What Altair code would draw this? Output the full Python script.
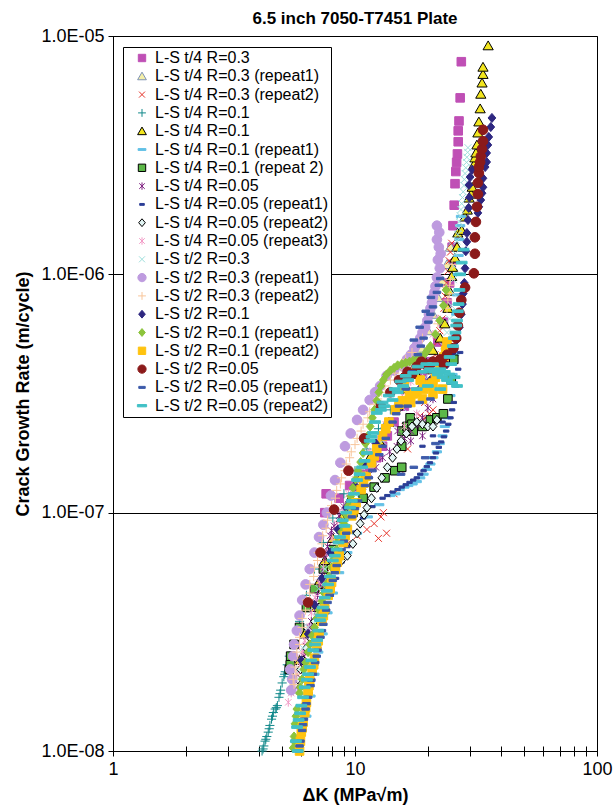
import altair as alt
import pandas as pd

# ---------------- series definitions ----------------
labels = [
    "L-S t/4 R=0.3",
    "L-S t/4 R=0.3 (repeat1)",
    "L-S t/4 R=0.3 (repeat2)",
    "L-S t/4 R=0.1",
    "L-S t/4 R=0.1 ",
    "L-S t/4 R=0.1 (repeat1)",
    "L-S t/4 R=0.1 (repeat 2)",
    "L-S t/4 R=0.05",
    "L-S t/4 R=0.05 (repeat1)",
    "L-S t/4 R=0.05 (repeat2)",
    "L-S t/4 R=0.05 (repeat3)",
    "L-S t/2 R=0.3",
    "L-S t/2 R=0.3 (repeat1)",
    "L-S t/2 R=0.3 (repeat2)",
    "L-S t/2 R=0.1",
    "L-S t/2 R=0.1 (repeat1)",
    "L-S t/2 R=0.1 (repeat2)",
    "L-S t/2 R=0.05",
    "L-S t/2 R=0.05 (repeat1)",
    "L-S t/2 R=0.05 (repeat2)",
]

fills = ["#BF4FB5", "#F4EFA8", "#E53228", "#12898B", "#F2E51E", "#63C1E6", "#5CB848",
         "#7E1F80", "#2C3E96", "#E2F5F4", "#F39AC6", "#9EDFDC", "#BE9BDF", "#F8C59A",
         "#2E2780", "#8CC43C", "#FFC30F", "#8B1A1A", "#3D5BAA", "#41C0C6"]
strokes = ["#BF4FB5", "#7F93B5", "#E53228", "#12898B", "#000000", "#63C1E6", "#000000",
           "#7E1F80", "#2C3E96", "#000000", "#F39AC6", "#9EDFDC", "#BE9BDF", "#F8C59A",
           "#2E2780", "#8CC43C", "#FFC30F", "#8B1A1A", "#3D5BAA", "#41C0C6"]
stroke_widths = [1, 1, 1.4, 2.0, 1, 1, 1, 1.7, 1, 1, 1.7,
                 1.4, 1, 2.0, 1, 1, 1, 1, 1, 1]

SQUARE = "M-0.8,-0.8L0.8,-0.8L0.8,0.8L-0.8,0.8Z"
TRI = "M0,-0.9L0.95,0.75L-0.95,0.75Z"
XMARK = "M-0.65,-0.65L0.65,0.65M-0.65,0.65L0.65,-0.65"
PLUS = "M-0.85,0L0.85,0M0,-0.85L0,0.85"
ASTER = "M-0.6,-0.6L0.6,0.6M-0.6,0.6L0.6,-0.6M0,-0.8L0,0.8"
DIAM = "M0,-0.85L0.72,0L0,0.85L-0.72,0Z"
CIRC = "M0.9,0A0.9,0.9,0,1,1,-0.9,0A0.9,0.9,0,1,1,0.9,0Z"
DASH_SKY = "M-0.85,-0.2L0.85,-0.2L0.85,0.2L-0.85,0.2Z"
DASH_NAVY = "M-0.5,-0.2L0.5,-0.2L0.5,0.2L-0.5,0.2Z"
DASH_BLUE = "M-0.7,-0.22L0.7,-0.22L0.7,0.22L-0.7,0.22Z"
DASH_TURQ = "M-1,-0.25L1,-0.25L1,0.25L-1,0.25Z"
shapes = [SQUARE, TRI, XMARK, PLUS, TRI, DASH_SKY, SQUARE, ASTER, DASH_NAVY, DIAM, ASTER,
          XMARK, CIRC, PLUS, DIAM, DIAM, SQUARE, CIRC, DASH_BLUE, DASH_TURQ]

# ---------------- data (dK in MPa*sqrt(m), rate in m/cycle) ----------------
s01 = [(7.5, 1.0e-7), (7.6, 1.2e-7), (8.6, 1.15e-7), (9.5, 1.3e-7), (10.5, 1.45e-7), (11.5, 1.55e-7),
       (12.3, 1.7e-7), (13.0, 1.9e-7), (13.6, 2.1e-7), (14.5, 2.4e-7), (16.0, 2.8e-7), (17.5, 3.2e-7),
       (19.0, 3.7e-7), (20.5, 4.3e-7), (22.0, 5.2e-7), (23.2, 6.3e-7), (24.0, 7.6e-7), (24.6, 9.2e-7),
       (25.0, 1.1e-6), (25.2, 1.3e-6), (25.4, 1.6e-6), (25.7, 1.95e-6), (25.9, 2.4e-6), (26.1, 2.7e-6),
       (26.3, 2.95e-6), (26.5, 3.2e-6), (26.7, 3.6e-6), (26.7, 4.0e-6), (26.9, 4.4e-6), (27.2, 5.5e-6),
       (27.5, 7.8e-6)]
s02 = [(6.0, 1.8e-8), (6.3, 2.3e-8), (6.7, 3.0e-8), (7.1, 3.9e-8), (7.6, 5.0e-8), (8.2, 6.5e-8),
       (8.9, 8.3e-8), (9.7, 1.05e-7), (10.6, 1.3e-7), (11.6, 1.6e-7), (12.5, 1.95e-7), (13.4, 2.35e-7),
       (14.8, 2.8e-7), (16.2, 3.4e-7), (17.5, 4.1e-7), (18.8, 4.9e-7), (20.0, 5.8e-7), (21.0, 6.8e-7),
       (22.0, 8.0e-7), (23.0, 9.4e-7), (24.0, 1.1e-6), (24.8, 1.3e-6)]
s03 = [(6.4, 2.6e-8), (6.7, 3.2e-8), (7.0, 4.0e-8), (7.3, 4.8e-8), (7.6, 5.6e-8), (7.9, 6.2e-8),
       (8.5, 6.8e-8), (9.3, 7.4e-8), (10.2, 8.0e-8), (11.2, 8.5e-8), (12.0, 9.0e-8), (12.5, 7.8e-8),
       (12.8, 9.6e-8), (13.1, 1.0e-7), (13.5, 8.2e-8), (14.5, 1.2e-7), (15.5, 1.5e-7), (16.5, 1.85e-7),
       (17.5, 2.2e-7), (18.6, 2.55e-7), (19.4, 2.9e-7), (20.2, 3.4e-7), (20.8, 4.0e-7), (21.4, 4.6e-7),
       (21.9, 5.2e-7), (22.4, 5.8e-7), (22.9, 6.5e-7), (23.3, 7.2e-7), (23.6, 8.1e-7), (23.9, 9.2e-7),
       (24.2, 1.03e-6), (24.5, 1.14e-6), (24.8, 1.24e-6), (25.1, 1.35e-6),
       (19.5, 2.5e-7), (21.0, 2.7e-7), (20.3, 2.6e-7)]
s04 = [(4.13, 1.0e-8), (4.17, 1.02e-8), (4.2, 1.05e-8), (4.25, 1.1e-8), (4.28, 1.12e-8), (4.32, 1.15e-8),
       (4.38, 1.2e-8), (4.42, 1.24e-8), (4.45, 1.28e-8), (4.52, 1.36e-8), (4.56, 1.4e-8), (4.6, 1.45e-8),
       (4.68, 1.5e-8), (4.73, 1.52e-8), (4.78, 1.55e-8), (4.85, 1.68e-8), (4.9, 1.74e-8), (4.93, 1.8e-8),
       (5.0, 1.93e-8), (5.08, 2.05e-8), (5.12, 2.1e-8), (5.15, 2.15e-8), (5.25, 2.3e-8), (5.35, 2.5e-8),
       (5.6, 2.8e-8), (5.9, 3.5e-8), (6.3, 4.5e-8), (6.8, 5.8e-8), (7.4, 7.5e-8), (8.1, 9.5e-8),
       (9.0, 1.2e-7), (10.0, 1.5e-7), (11.2, 1.85e-7), (12.5, 2.25e-7), (14.0, 2.7e-7)]
s05 = [(5.9, 2.4e-8), (6.2, 3.1e-8), (6.6, 4.0e-8), (7.0, 5.0e-8), (7.5, 6.3e-8), (8.1, 7.8e-8),
       (8.8, 9.5e-8), (9.6, 1.15e-7), (10.5, 1.4e-7), (11.5, 1.7e-7), (12.6, 2.0e-7), (13.8, 2.4e-7),
       (15.0, 2.8e-7), (16.4, 3.3e-7), (18.0, 3.8e-7), (19.5, 4.3e-7), (21.0, 4.8e-7), (22.5, 5.4e-7),
       (23.5, 6.2e-7), (24.2, 7.2e-7), (24.6, 8.5e-7), (25.1, 9.8e-7), (25.3, 1.07e-6), (25.9, 1.17e-6),
       (26.4, 1.3e-6), (26.6, 1.49e-6), (27.6, 1.53e-6), (28.5, 1.74e-6), (29.1, 1.86e-6), (29.6, 2.09e-6),
       (30.2, 2.17e-6), (30.5, 2.32e-6), (31.0, 2.88e-6), (31.3, 3.08e-6), (31.6, 3.23e-6), (31.9, 3.49e-6),
       (32.2, 3.92e-6), (32.5, 4.36e-6), (32.9, 4.95e-6), (33.1, 5.7e-6), (33.5, 6.35e-6), (33.8, 6.9e-6),
       (33.8, 7.4e-6), (35.5, 9.1e-6)]
s06 = [(6.3, 1.4e-8), (6.55, 1.7e-8), (6.8, 2.1e-8), (7.05, 2.6e-8), (7.35, 3.1e-8), (7.7, 3.8e-8),
       (8.1, 4.6e-8), (8.6, 5.6e-8), (9.3, 6.8e-8), (10.2, 8.2e-8), (11.3, 9.6e-8), (12.6, 1.08e-7),
       (14.0, 1.18e-7), (15.3, 1.25e-7), (16.6, 1.3e-7), (18.0, 1.35e-7), (19.2, 1.45e-7), (20.5, 1.6e-7),
       (21.8, 1.8e-7), (23.0, 2.1e-7), (24.0, 2.5e-7), (24.8, 3.1e-7), (25.3, 3.8e-7), (25.7, 4.6e-7),
       (26.0, 5.6e-7), (26.2, 6.8e-7), (26.4, 8.2e-7), (26.6, 1.0e-6), (26.8, 1.2e-6), (27.0, 1.4e-6),
       (27.2, 1.6e-6), (27.4, 1.75e-6),
       (14.7, 1.2e-7), (16.0, 1.28e-7), (17.3, 1.32e-7), (18.6, 1.4e-7), (19.8, 1.52e-7), (21.1, 1.7e-7),
       (22.4, 1.95e-7), (23.5, 2.3e-7)]
s07 = [(5.35, 2.2e-8), (5.4, 2.3e-8), (5.42, 2.5e-8), (5.6, 2.8e-8), (5.9, 3.3e-8), (6.3, 4.0e-8),
       (6.8, 4.8e-8), (7.4, 5.8e-8), (8.1, 7.0e-8), (8.9, 8.5e-8), (9.8, 1.0e-7), (10.8, 1.15e-7),
       (12.0, 1.28e-7), (13.3, 1.4e-7), (14.6, 1.5e-7), (15.6, 1.55e-7), (15.6, 1.9e-7), (15.6, 2.2e-7),
       (16.4, 2.3e-7), (16.9, 2.5e-7), (17.2, 2.35e-7), (17.4, 2.2e-7), (19.0, 2.3e-7), (20.5, 2.45e-7),
       (21.8, 2.5e-7), (23.2, 2.6e-7), (24.2, 3.0e-7), (25.0, 3.6e-7), (25.6, 4.4e-7)]
s08 = [(5.85, 1.8e-8), (6.0, 2.2e-8), (6.15, 2.5e-8), (6.3, 2.75e-8), (6.45, 3.1e-8), (6.6, 3.5e-8),
       (6.8, 4.0e-8), (7.0, 4.5e-8), (7.2, 5.0e-8), (7.35, 5.7e-8), (7.5, 6.4e-8), (7.7, 7.2e-8),
       (7.9, 8.0e-8), (8.2, 8.8e-8), (8.6, 9.7e-8), (9.0, 1.06e-7), (9.5, 1.15e-7), (10.1, 1.25e-7),
       (10.8, 1.35e-7), (11.5, 1.45e-7), (12.2, 1.55e-7), (13.0, 1.7e-7), (13.9, 1.8e-7), (14.9, 1.9e-7),
       (16.0, 2.05e-7), (17.0, 2.2e-7), (18.0, 2.35e-7), (19.0, 2.5e-7), (20.0, 2.75e-7), (21.0, 3.0e-7),
       (6.2, 2.6e-8), (6.5, 3.3e-8), (6.9, 4.2e-8), (7.3, 5.3e-8), (7.6, 6.8e-8), (8.0, 8.4e-8),
       (15.0, 2.2e-7), (17.0, 2.0e-7), (19.0, 2.1e-7)]
s09 = [(6.1, 1.3e-8), (6.3, 1.5e-8), (6.5, 1.75e-8), (6.65, 2.0e-8), (6.85, 2.3e-8), (7.05, 2.7e-8),
       (7.3, 3.2e-8), (7.6, 3.8e-8), (7.95, 4.5e-8), (8.35, 5.3e-8), (8.8, 6.2e-8), (9.3, 7.2e-8),
       (10.0, 8.3e-8), (10.8, 9.5e-8), (11.8, 1.06e-7), (13.0, 1.15e-7), (14.3, 1.22e-7), (15.6, 1.28e-7),
       (16.8, 1.34e-7), (18.0, 1.4e-7), (19.2, 1.5e-7), (20.4, 1.62e-7), (21.6, 1.78e-7), (22.7, 1.98e-7),
       (23.8, 2.2e-7), (24.8, 2.5e-7), (25.6, 2.9e-7), (26.2, 3.4e-7), (26.7, 4.0e-7), (27.2, 4.7e-7),
       (13.6, 1.18e-7), (15.0, 1.25e-7), (16.2, 1.31e-7), (17.4, 1.37e-7), (18.6, 1.45e-7), (19.8, 1.56e-7),
       (21.0, 1.7e-7), (22.2, 1.88e-7), (23.3, 2.08e-7), (24.3, 2.35e-7), (25.2, 2.7e-7),
       (19.0, 1.9e-7), (21.0, 2.1e-7), (23.0, 2.4e-7)]
s10 = [(5.65, 1.9e-8), (5.8, 2.0e-8), (5.95, 2.2e-8), (6.1, 2.4e-8), (6.3, 2.7e-8), (6.5, 3.0e-8),
       (6.8, 3.5e-8), (7.1, 4.0e-8), (7.5, 4.6e-8), (7.9, 5.2e-8), (8.3, 5.8e-8), (8.8, 6.3e-8),
       (9.3, 6.6e-8), (9.8, 7.4e-8), (10.2, 8.2e-8), (10.5, 9.0e-8), (10.9, 9.8e-8), (11.2, 1.05e-7),
       (11.7, 1.15e-7), (12.3, 1.27e-7), (12.9, 1.4e-7), (13.6, 1.55e-7), (14.3, 1.7e-7), (14.9, 1.85e-7),
       (15.5, 2.0e-7), (16.3, 2.15e-7), (17.2, 2.3e-7), (18.0, 2.4e-7), (19.0, 2.35e-7), (20.0, 2.3e-7),
       (21.0, 2.3e-7), (21.8, 2.45e-7)]
s11 = [(5.3, 1.6e-8), (5.45, 1.75e-8), (5.6, 1.9e-8), (5.75, 2.1e-8), (5.9, 2.35e-8), (6.05, 2.6e-8),
       (6.2, 2.9e-8), (6.4, 3.3e-8), (6.6, 3.8e-8), (6.85, 4.4e-8), (7.1, 5.1e-8), (7.4, 5.9e-8),
       (7.7, 6.8e-8), (8.05, 7.8e-8), (8.45, 9.0e-8), (8.9, 1.04e-7), (9.4, 1.2e-7), (10.0, 1.38e-7),
       (10.7, 1.58e-7), (11.5, 1.8e-7), (12.4, 2.05e-7), (13.4, 2.35e-7), (14.5, 2.7e-7), (15.7, 3.1e-7),
       (17.0, 3.55e-7), (18.4, 4.1e-7), (19.8, 4.8e-7), (21.0, 5.6e-7), (22.0, 6.5e-7),
       (16.0, 2.3e-7), (18.0, 2.6e-7)]
s12 = [(5.9, 2.2e-8), (6.1, 2.7e-8), (6.4, 3.3e-8), (6.7, 4.0e-8), (7.1, 4.8e-8), (7.5, 5.8e-8),
       (8.0, 7.0e-8), (8.6, 8.4e-8), (9.2, 1.0e-7), (10.0, 1.2e-7), (10.9, 1.42e-7), (11.9, 1.68e-7),
       (13.0, 2.0e-7), (14.3, 2.35e-7), (15.8, 2.75e-7), (17.5, 3.2e-7), (19.5, 3.7e-7), (21.5, 4.3e-7),
       (23.2, 5.0e-7), (24.0, 5.7e-7), (24.6, 6.5e-7), (25.0, 7.4e-7), (25.3, 8.4e-7), (25.5, 9.5e-7),
       (25.7, 1.08e-6), (26.0, 1.22e-6), (26.4, 1.38e-6), (26.8, 1.56e-6), (27.2, 1.76e-6), (27.6, 1.98e-6),
       (28.0, 2.22e-6), (28.3, 2.5e-6), (28.7, 2.8e-6), (29.0, 3.1e-6), (29.3, 3.4e-6),
       (26.6, 1.47e-6), (27.0, 1.66e-6), (27.4, 1.87e-6), (27.8, 2.1e-6), (28.2, 2.36e-6), (28.5, 2.65e-6),
       (28.9, 2.95e-6), (29.2, 3.25e-6)]
s13 = [(5.45, 1.8e-8), (5.5, 2.0e-8), (5.4, 2.2e-8), (5.55, 2.5e-8), (5.6, 2.8e-8), (5.75, 3.2e-8),
       (5.9, 3.7e-8), (6.05, 4.3e-8), (6.25, 5.0e-8), (6.5, 5.8e-8), (6.8, 6.8e-8), (7.1, 7.9e-8),
       (7.4, 8.9e-8), (7.65, 1.0e-7), (7.95, 1.18e-7), (8.27, 1.37e-7), (8.7, 1.62e-7), (9.09, 1.9e-7),
       (9.6, 2.15e-7), (10.2, 2.45e-7), (10.8, 2.7e-7), (11.5, 2.97e-7), (12.1, 3.2e-7), (12.7, 3.4e-7),
       (13.5, 3.75e-7), (14.5, 3.95e-7), (15.8, 4.1e-7), (17.0, 4.6e-7), (18.1, 5.1e-7), (19.0, 5.7e-7),
       (19.9, 6.4e-7), (20.5, 7.2e-7), (21.0, 8.0e-7), (21.5, 8.9e-7), (21.8, 9.7e-7), (22.4, 1.06e-6),
       (22.0, 1.15e-6), (22.6, 1.22e-6), (22.2, 1.3e-6), (21.8, 1.4e-6), (22.3, 1.5e-6), (21.8, 1.6e-6),
       (16.4, 4.4e-7), (17.6, 4.9e-7), (18.6, 5.4e-7), (19.5, 6.0e-7), (20.2, 6.8e-7), (20.8, 7.6e-7),
       (21.3, 8.4e-7)]
s14 = [(5.6, 1.9e-8), (5.7, 2.1e-8), (5.8, 2.4e-8), (5.9, 2.8e-8), (6.05, 3.3e-8), (6.25, 3.9e-8),
       (6.5, 4.6e-8), (6.75, 5.4e-8), (7.0, 6.3e-8), (7.3, 7.4e-8), (7.6, 8.6e-8), (7.95, 1.0e-7),
       (8.3, 1.15e-7), (8.7, 1.32e-7), (9.1, 1.5e-7), (9.5, 1.7e-7), (10.0, 1.93e-7), (10.6, 2.2e-7),
       (11.3, 2.5e-7), (12.0, 2.85e-7), (12.9, 3.2e-7), (14.0, 3.6e-7), (15.5, 4.1e-7), (17.2, 4.7e-7),
       (19.0, 5.4e-7), (22.0, 6.2e-7), (24.0, 7.2e-7), (24.5, 8.3e-7), (24.8, 9.5e-7), (25.2, 1.1e-6),
       (5.55, 2.0e-8), (5.65, 2.25e-8), (5.75, 2.6e-8), (5.9, 3.0e-8), (6.05, 3.6e-8), (6.3, 4.3e-8),
       (6.5, 5.0e-8), (6.8, 5.9e-8), (7.05, 6.8e-8), (7.35, 8.0e-8), (7.7, 9.3e-8), (8.0, 1.07e-7),
       (8.4, 1.24e-7), (8.8, 1.4e-7), (9.2, 1.6e-7), (9.65, 1.8e-7), (10.2, 2.05e-7), (10.8, 2.35e-7),
       (11.5, 2.65e-7), (12.4, 3.0e-7), (13.3, 3.4e-7), (14.6, 3.85e-7), (16.2, 4.4e-7), (23.8, 8.8e-7),
       (24.2, 7.8e-7), (24.6, 9.0e-7)]
s15 = [(6.0, 2.4e-8), (6.4, 3.1e-8), (6.8, 4.1e-8), (7.3, 5.3e-8), (7.9, 6.8e-8), (8.5, 8.5e-8),
       (9.2, 1.05e-7), (10.0, 1.3e-7), (11.0, 1.6e-7), (12.2, 1.95e-7), (13.5, 2.3e-7), (15.0, 2.7e-7),
       (16.5, 3.0e-7), (18.5, 3.3e-7), (20.5, 3.6e-7), (22.5, 3.9e-7), (24.0, 4.2e-7), (25.3, 4.7e-7),
       (26.3, 5.3e-7), (27.0, 6.0e-7), (27.5, 6.8e-7), (27.8, 7.5e-7), (28.0, 8.3e-7), (28.3, 9.2e-7),
       (28.5, 1.06e-6), (28.7, 1.25e-6), (29.0, 1.37e-6), (29.0, 1.49e-6), (29.3, 1.69e-6), (29.5, 1.9e-6),
       (29.7, 2.1e-6), (29.6, 2.37e-6), (29.9, 2.56e-6), (30.5, 2.75e-6), (32.2, 1.81e-6), (32.5, 1.92e-6),
       (33.1, 2.05e-6), (33.5, 2.19e-6), (33.8, 2.32e-6), (33.8, 2.53e-6), (34.5, 2.82e-6), (35.0, 2.96e-6),
       (35.0, 3.23e-6), (35.4, 3.49e-6), (35.7, 3.77e-6), (36.4, 4.15e-6), (36.8, 4.53e-6)]
s16 = [(5.55, 1.03e-8), (5.6, 1.15e-8), (5.65, 1.3e-8), (5.75, 1.5e-8), (5.9, 1.75e-8), (6.05, 2.0e-8),
       (6.25, 2.35e-8), (6.5, 2.8e-8), (6.8, 3.3e-8), (7.1, 3.9e-8), (7.45, 4.6e-8), (7.8, 5.4e-8),
       (8.2, 6.4e-8), (8.6, 7.6e-8), (9.0, 9.0e-8), (9.4, 1.07e-7), (9.8, 1.27e-7), (10.3, 1.5e-7),
       (10.8, 1.78e-7), (11.3, 2.1e-7), (11.8, 2.5e-7), (12.3, 2.95e-7), (12.8, 3.4e-7), (13.5, 3.8e-7),
       (14.5, 4.05e-7), (15.6, 4.2e-7), (16.8, 4.3e-7), (18.0, 4.4e-7), (19.3, 4.6e-7), (20.5, 5.0e-7),
       (21.5, 5.6e-7), (22.4, 6.4e-7), (23.2, 7.4e-7), (23.8, 8.6e-7),
       (5.6, 1.1e-8), (5.7, 1.4e-8), (5.95, 1.85e-8), (6.15, 2.2e-8), (6.4, 2.6e-8), (6.65, 3.05e-8),
       (6.95, 3.6e-8), (7.3, 4.25e-8), (7.6, 5.0e-8), (8.0, 5.9e-8), (8.4, 7.0e-8), (8.8, 8.3e-8),
       (9.2, 9.8e-8), (9.6, 1.17e-7), (10.05, 1.38e-7), (10.55, 1.63e-7), (11.05, 1.95e-7), (11.55, 2.3e-7),
       (12.05, 2.7e-7), (12.55, 3.2e-7), (13.1, 3.6e-7), (14.0, 3.95e-7), (15.0, 4.15e-7), (16.2, 4.25e-7),
       (17.4, 4.35e-7), (18.6, 4.5e-7), (19.9, 4.8e-7)]
s17 = [(5.9, 1.0e-8), (5.95, 1.1e-8), (6.0, 1.2e-8), (6.1, 1.32e-8), (6.2, 1.45e-8), (6.3, 1.6e-8),
       (6.4, 1.78e-8), (6.5, 1.98e-8), (6.65, 2.2e-8), (6.8, 2.45e-8), (6.95, 2.75e-8), (7.1, 3.1e-8),
       (7.3, 3.5e-8), (7.5, 3.95e-8), (7.75, 4.5e-8), (8.0, 5.1e-8), (8.3, 5.8e-8), (8.6, 6.6e-8),
       (8.95, 7.5e-8), (9.3, 8.5e-8), (9.7, 9.7e-8), (10.1, 1.1e-7), (10.6, 1.25e-7), (11.1, 1.42e-7),
       (11.7, 1.62e-7), (12.3, 1.85e-7), (13.0, 2.1e-7), (13.8, 2.4e-7), (14.7, 2.7e-7), (15.7, 2.95e-7),
       (16.8, 3.1e-7), (18.0, 3.2e-7), (19.2, 3.3e-7), (20.4, 3.45e-7), (21.5, 3.7e-7), (22.5, 4.0e-7),
       (23.3, 4.5e-7), (24.0, 5.2e-7),
       (6.05, 1.25e-8), (6.25, 1.52e-8), (6.45, 1.88e-8), (6.75, 2.3e-8), (7.05, 2.9e-8), (7.4, 3.7e-8),
       (7.9, 4.8e-8), (8.45, 6.2e-8), (9.1, 8.0e-8), (9.9, 1.03e-7), (10.85, 1.33e-7), (12.0, 1.73e-7),
       (13.4, 2.25e-7), (15.2, 2.85e-7), (17.4, 3.15e-7), (19.8, 3.38e-7), (22.0, 3.85e-7), (23.7, 4.8e-7),
       (16.0, 3.4e-7), (18.6, 3.6e-7), (21.0, 3.5e-7), (17.0, 2.9e-7), (19.0, 3.0e-7), (21.0, 3.15e-7),
       (23.0, 3.3e-7)]
s18 = [(6.4, 4.2e-8), (7.2, 6.8e-8), (8.2, 1.03e-7), (9.4, 1.5e-7), (10.9, 2.05e-7), (12.8, 2.8e-7),
       (14.0, 3.2e-7), (15.2, 3.6e-7), (16.0, 3.7e-7), (16.5, 3.9e-7), (17.2, 3.8e-7), (18.0, 4.1e-7),
       (18.8, 4.3e-7), (19.5, 4.2e-7), (21.0, 4.3e-7), (22.5, 4.4e-7), (24.0, 4.6e-7), (25.5, 4.9e-7),
       (26.2, 5.4e-7), (26.6, 6.1e-7), (27.0, 6.9e-7), (27.5, 7.8e-7), (28.5, 8.8e-7), (31.0, 1.01e-6),
       (31.3, 1.22e-6), (31.3, 1.43e-6), (31.6, 1.66e-6), (31.9, 1.92e-6), (32.2, 2.17e-6), (32.2, 2.42e-6),
       (32.5, 2.66e-6), (32.5, 2.82e-6), (32.9, 2.96e-6), (33.1, 3.13e-6), (33.5, 3.36e-6), (33.8, 3.62e-6),
       (33.8, 4.04e-6), (20.2, 4.0e-7), (23.2, 4.2e-7)]
s19 = [(5.85, 1.0e-8), (5.95, 1.1e-8), (6.05, 1.22e-8), (6.15, 1.36e-8), (6.25, 1.5e-8), (6.4, 1.68e-8),
       (6.55, 1.88e-8), (6.7, 2.1e-8), (6.85, 2.35e-8), (7.0, 2.65e-8), (7.2, 3.0e-8), (7.4, 3.4e-8),
       (7.6, 3.9e-8), (7.85, 4.5e-8), (8.1, 5.2e-8), (8.4, 6.0e-8), (8.8, 7.0e-8), (9.2, 8.2e-8),
       (9.7, 9.6e-8), (10.3, 1.12e-7), (11.0, 1.3e-7), (11.8, 1.5e-7), (12.6, 1.75e-7), (13.4, 2.05e-7),
       (14.3, 2.4e-7), (15.2, 2.8e-7), (16.2, 3.3e-7), (17.2, 3.9e-7), (18.2, 4.6e-7), (19.2, 5.4e-7),
       (20.1, 6.3e-7), (21.0, 7.3e-7), (21.8, 8.4e-7), (22.5, 9.6e-7),
       (5.9, 1.05e-8), (6.1, 1.29e-8), (6.3, 1.58e-8), (6.6, 1.98e-8), (6.95, 2.5e-8), (7.3, 3.2e-8),
       (7.7, 4.2e-8), (8.25, 5.6e-8), (9.0, 7.6e-8), (10.0, 1.04e-7), (11.4, 1.4e-7), (13.0, 1.9e-7),
       (14.8, 2.6e-7), (16.7, 3.6e-7), (18.7, 5.0e-7), (20.5, 6.8e-7), (22.2, 9.0e-7),
       (17.5, 5.3e-7), (18.5, 6.0e-7), (19.6, 7.0e-7), (20.6, 8.0e-7),
       (15.5, 1.45e-7), (17.5, 1.55e-7), (19.5, 1.7e-7), (21.5, 1.95e-7),
       (16.5, 2.8e-7), (18.5, 2.9e-7), (20.5, 3.0e-7)]
s20 = [(5.7, 1.1e-8), (5.76, 1.26e-8), (5.85, 1.35e-8), (5.93, 1.44e-8), (6.1, 1.68e-8), (6.2, 1.85e-8),
       (6.33, 1.99e-8), (6.52, 2.25e-8), (6.6, 2.4e-8), (6.72, 2.65e-8), (6.97, 2.92e-8), (7.05, 3.2e-8),
       (7.17, 3.54e-8), (7.37, 4.0e-8), (7.5, 4.4e-8), (7.65, 4.7e-8), (7.88, 5.4e-8), (8.1, 6.3e-8),
       (8.4, 7.0e-8), (8.67, 7.9e-8), (8.9, 9.3e-8), (9.2, 1.0e-7), (9.54, 1.05e-7), (9.9, 1.2e-7),
       (10.2, 1.37e-7), (10.7, 1.55e-7), (11.2, 1.78e-7), (11.5, 2.0e-7), (11.9, 2.16e-7), (12.3, 2.62e-7),
       (12.8, 2.7e-7), (13.2, 2.8e-7), (14.3, 2.97e-7), (15.0, 3.2e-7), (15.8, 3.4e-7), (16.6, 3.6e-7),
       (17.4, 3.86e-7), (19.0, 3.9e-7), (20.4, 4.0e-7), (21.2, 3.9e-7), (22.0, 3.8e-7), (23.0, 3.7e-7),
       (24.0, 3.6e-7), (25.2, 3.5e-7), (26.4, 3.4e-7), (25.0, 4.2e-7), (25.4, 5.0e-7), (26.0, 5.7e-7),
       (26.4, 6.4e-7), (26.8, 7.5e-7), (27.0, 8.6e-7), (27.2, 1.0e-6), (28.1, 1.27e-6),
       (5.8, 1.0e-8), (6.0, 1.55e-8), (6.4, 2.1e-8), (6.85, 2.8e-8), (7.25, 3.7e-8), (7.75, 5.0e-8),
       (8.25, 6.6e-8), (8.55, 7.5e-8), (9.05, 8.8e-8), (9.7, 1.12e-7), (10.45, 1.45e-7), (10.95, 1.65e-7),
       (11.7, 2.08e-7), (12.1, 2.4e-7), (13.0, 2.9e-7), (13.8, 3.1e-7), (14.6, 3.3e-7), (15.4, 3.55e-7),
       (16.2, 3.75e-7), (18.2, 4.1e-7), (19.7, 4.2e-7), (21.0, 4.2e-7), (22.5, 4.0e-7), (23.5, 3.9e-7),
       (24.5, 3.8e-7), (25.8, 3.7e-7), (24.6, 4.5e-7), (25.6, 5.4e-7), (26.2, 6.1e-7), (26.6, 7.0e-7),
       (27.6, 1.12e-6), (18.0, 3.3e-7), (20.0, 3.4e-7), (22.5, 3.3e-7)]

series_points = [s01, s02, s03, s04, s05, s06, s07, s08, s09, s10,
                 s11, s12, s13, s14, s15, s16, s17, s18, s19, s20]

rows = []
for order, (lab, pts) in enumerate(zip(labels, series_points)):
    for dk, rate in pts:
        rows.append({"series": lab, "dK": dk, "rate": rate, "ord": order})
df = pd.DataFrame(rows)

x_values = [1, 2, 3, 4, 5, 6, 7, 8, 9, 10, 20, 30, 40, 50, 60, 70, 80, 90, 100]
y_values = [1e-8, 1e-7, 1e-6, 1e-5]

FONT = "Liberation Sans"

leg = dict(title=None, orient="none", legendX=10, legendY=11, padding=3,
           symbolOffset=8, labelFontSize=16, labelFont=FONT, labelColor="black",
           rowPadding=2.3, strokeColor="black", fillColor="white", symbolSize=85,
           labelOffset=5, symbolStrokeWidth=1, labelLimit=400)

x_scale = alt.Scale(type="log", domain=[1, 100])
y_scale = alt.Scale(type="log", domain=[1e-8, 1e-5])

x_axis = alt.Axis(values=x_values,
                  labelExpr="datum.value == 1 ? '1' : datum.value == 10 ? '10' : datum.value == 100 ? '100' : ''",
                  grid=False, tickColor="black", tickSize=5, domainColor="black",
                  labelFont=FONT, labelFontSize=18, labelColor="black", labelPadding=4,
                  title="ΔK (MPa√m)", titleFont=FONT, titleFontSize=18, titleFontWeight="bold",
                  titleColor="black", titlePadding=8, labelFlush=False, labelOverlap=False)
y_axis = alt.Axis(values=y_values,
                  labelExpr="'1.0E-0' + toString(round(-log(datum.value) / LN10))",
                  grid=True, gridColor="black", gridWidth=1, tickColor="black", tickSize=5,
                  domainColor="black", labelFont=FONT, labelFontSize=18, labelColor="black",
                  labelPadding=4, title="Crack Growth Rate (m/cycle)", titleFont=FONT,
                  titleFontSize=18, titleFontWeight="bold", titleColor="black", titlePadding=8,
                  labelFlush=False, labelOverlap=False)

points = alt.Chart(df).mark_point(filled=True, size=115, opacity=1).encode(
    x=alt.X("dK:Q", scale=x_scale, axis=x_axis),
    y=alt.Y("rate:Q", scale=y_scale, axis=y_axis),
    color=alt.Color("series:N", scale=alt.Scale(domain=labels, range=fills), legend=alt.Legend(**leg)),
    stroke=alt.Stroke("series:N", scale=alt.Scale(domain=labels, range=strokes), legend=alt.Legend(**leg)),
    shape=alt.Shape("series:N", scale=alt.Scale(domain=labels, range=shapes), legend=alt.Legend(**leg)),
    strokeWidth=alt.StrokeWidth("series:N", scale=alt.Scale(domain=labels, range=stroke_widths), legend=None),
    order=alt.Order("ord:Q"),
)

# inner half of the crossing tick marks (axes drawn inside the frame, no labels)
inner_ticks = alt.Chart(df).mark_point(opacity=0).encode(
    x=alt.X("dK:Q", scale=x_scale,
            axis=alt.Axis(values=x_values, orient="bottom", offset=-5, tickSize=5, labels=False,
                          domain=False, grid=False, title=None, tickColor="black")),
    y=alt.Y("rate:Q", scale=y_scale,
            axis=alt.Axis(values=y_values, orient="left", offset=-5, tickSize=5, labels=False,
                          domain=False, grid=False, title=None, tickColor="black")),
)

chart = alt.layer(points, inner_ticks).resolve_axis(x="independent", y="independent").properties(
    width=484, height=715,
    padding={"left": 113, "top": 36, "right": 16, "bottom": 60},
    autosize=alt.AutoSizeParams(type="none"),
    title=alt.TitleParams("6.5 inch 7050-T7451 Plate", font=FONT, fontSize=17, fontWeight="bold",
                          color="black", anchor="middle", offset=4, dy=5),
).configure_view(stroke="black", strokeWidth=1)

chart.save("out.html", embed_options={"renderer": "svg", "actions": False})
